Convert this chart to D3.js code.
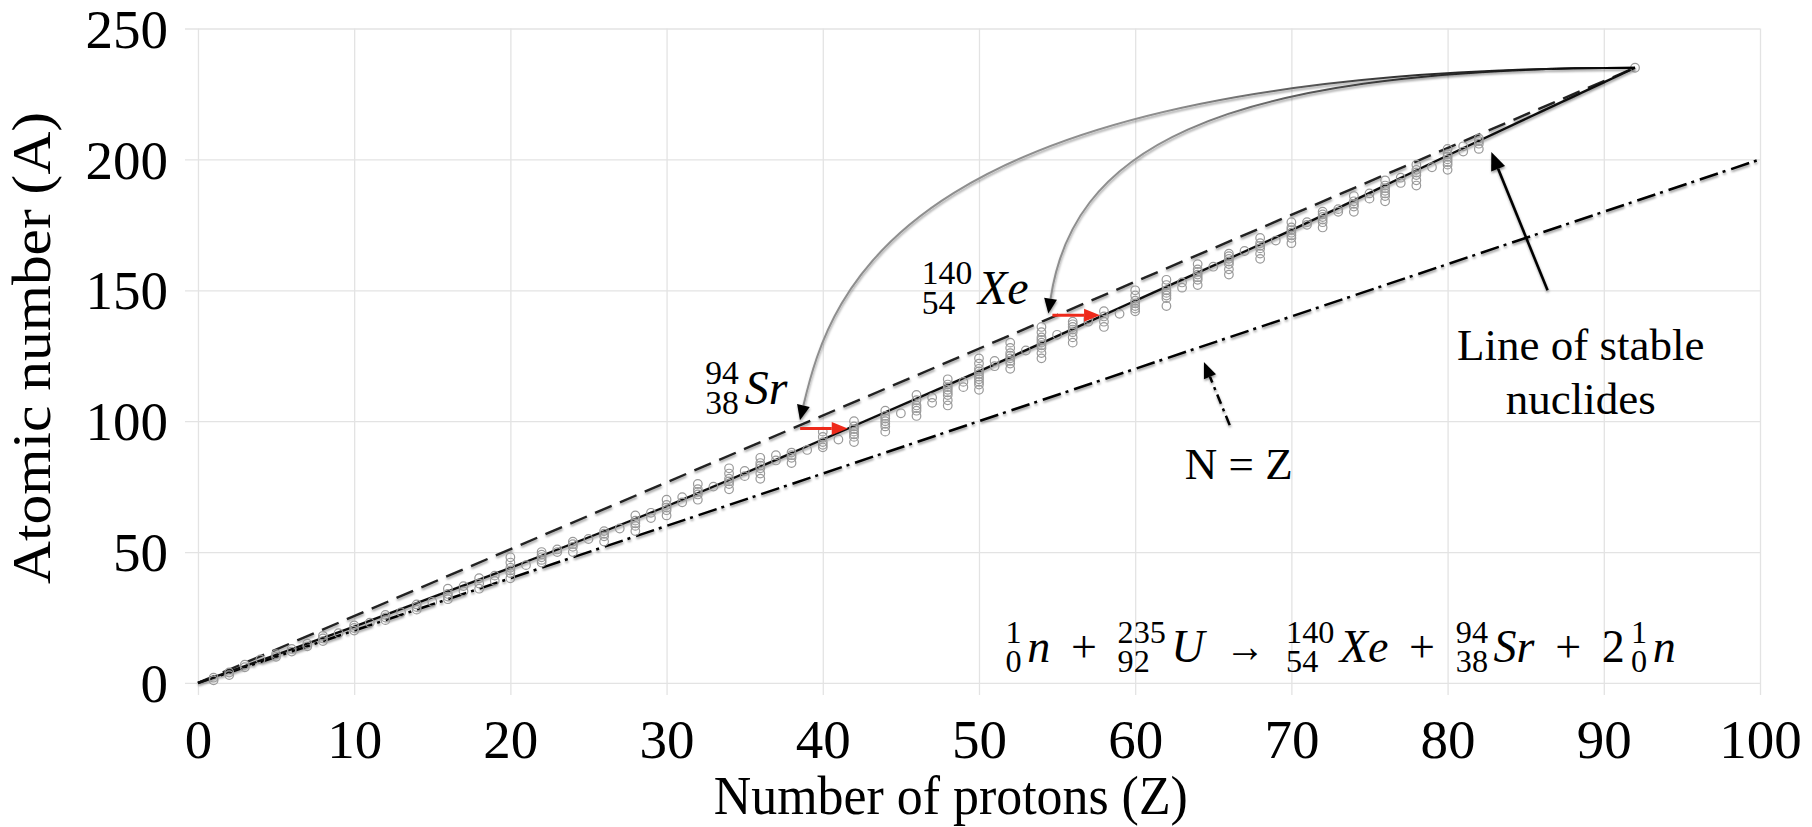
<!DOCTYPE html>
<html>
<head>
<meta charset="utf-8">
<script src="https://cdn.jsdelivr.net/npm/d3@7"></script>
<style>
  html, body { margin: 0; padding: 0; background: #fff; }
  svg { display: block; }
  svg text { font-family: "Liberation Serif", "Times New Roman", Times, serif; }
</style>
</head>
<body>
<svg id="chart" width="1812" height="827"></svg>
<script>
// ---------------- data ----------------
const xTicks = [0, 10, 20, 30, 40, 50, 60, 70, 80, 90, 100];
const yTicks = [0, 50, 100, 150, 200, 250];

// stable nuclides: [Z, [mass numbers]]
const stableIsotopes = [
  [1, [1, 2]], [2, [3, 4]], [3, [6, 7]], [4, [9]], [5, [10, 11]], [6, [12, 13]],
  [7, [14, 15]], [8, [16, 17, 18]], [9, [19]], [10, [20, 21, 22]], [11, [23]],
  [12, [24, 25, 26]], [13, [27]], [14, [28, 29, 30]], [15, [31]], [16, [32, 33, 34, 36]],
  [17, [35, 37]], [18, [36, 38, 40]], [19, [39, 41]], [20, [40, 42, 43, 44, 46, 48]],
  [21, [45]], [22, [46, 47, 48, 49, 50]], [23, [50, 51]], [24, [50, 52, 53, 54]],
  [25, [55]], [26, [54, 56, 57, 58]], [27, [59]], [28, [58, 60, 61, 62, 64]],
  [29, [63, 65]], [30, [64, 66, 67, 68, 70]], [31, [69, 71]], [32, [70, 72, 73, 74, 76]],
  [33, [75]], [34, [74, 76, 77, 78, 80, 82]], [35, [79, 81]], [36, [78, 80, 82, 83, 84, 86]],
  [37, [85, 87]], [38, [84, 86, 87, 88]], [39, [89]], [40, [90, 91, 92, 94, 96]],
  [41, [93]], [42, [92, 94, 95, 96, 97, 98, 100]], [44, [96, 98, 99, 100, 101, 102, 104]],
  [45, [103]], [46, [102, 104, 105, 106, 108, 110]], [47, [107, 109]],
  [48, [106, 108, 110, 111, 112, 113, 114, 116]], [49, [113, 115]],
  [50, [112, 114, 115, 116, 117, 118, 119, 120, 122, 124]], [51, [121, 123]],
  [52, [120, 122, 123, 124, 125, 126, 128, 130]], [53, [127]],
  [54, [124, 126, 128, 129, 130, 131, 132, 134, 136]], [55, [133]],
  [56, [130, 132, 134, 135, 136, 137, 138]], [57, [138, 139]], [58, [136, 138, 140, 142]],
  [59, [141]], [60, [142, 143, 144, 145, 146, 148, 150]], [62, [144, 147, 148, 149, 150, 152, 154]],
  [63, [151, 153]], [64, [152, 154, 155, 156, 157, 158, 160]], [65, [159]],
  [66, [156, 158, 160, 161, 162, 163, 164]], [67, [165]], [68, [162, 164, 166, 167, 168, 170]],
  [69, [169]], [70, [168, 170, 171, 172, 173, 174, 176]], [71, [175, 176]],
  [72, [174, 176, 177, 178, 179, 180]], [73, [180, 181]], [74, [180, 182, 183, 184, 186]],
  [75, [185, 187]], [76, [184, 186, 187, 188, 189, 190, 192]], [77, [191, 193]],
  [78, [190, 192, 194, 195, 196, 198]], [79, [197]], [80, [196, 198, 199, 200, 201, 202, 204]],
  [81, [203, 205]], [82, [204, 206, 207, 208]]
];

// uranium-235 target nucleus
const uranium = [92, 235];

// line of stable nuclides
const stabilityZ = [0, 10, 20, 30, 40, 50, 60, 70, 80, 90, 92];
const stabilityA = [0, 21.5, 44, 67.5, 93, 119, 146, 173, 201.5, 229.4, 235];

// same neutron/proton ratio as U-235
const uraniumRatioLine = [[0, 0], [92, 235]];
// N = Z  (A = 2Z)
const equalNZLine = [[0, 0], [100, 200]];

// fission paths from U-235 to the two fragments (cubic Bezier: start, two handles, tip)
const pathToSr = [[92, 235], [44.95, 235], [40.3, 145], [38.54, 100.4]];
const pathToXe = [[92, 235], [64.15, 235], [55.82, 195.8], [54.44, 141.1]];

// beta-decay shifts toward the stability line
const betaSr = [[38.55, 97.2], [41.6, 97.2]];
const betaXe = [[54.7, 140.5], [57.75, 140.5]];

// pointers for the two line labels
const stablePointer = [[86.4, 150], [82.8, 202.8]];
const nzPointer = [[66.05, 98.5], [64.4, 122.6]];

// ---------------- setup ----------------
const FONT = '"Liberation Serif", "Times New Roman", Times, serif';
const svg = d3.select('#chart');

const xScale = d3.scaleLinear().domain([-0.83, 100]).range([185, 1760]);
const yScale = d3.scaleLinear().domain([-4.6, 250]).range([695, 28.5]);

const defs = svg.append('defs');
const shadow = defs.append('filter').attr('id', 'soft-shadow')
  .attr('filterUnits', 'userSpaceOnUse')
  .attr('x', 0).attr('y', 0).attr('width', 1812).attr('height', 827);
shadow.append('feDropShadow').attr('dx', 0.5).attr('dy', 2)
  .attr('stdDeviation', 1.3).attr('flood-color', '#000').attr('flood-opacity', 0.38);

const fade = defs.append('linearGradient').attr('id', 'path-fade')
  .attr('gradientUnits', 'userSpaceOnUse')
  .attr('x1', xScale(92)).attr('y1', 0).attr('x2', xScale(62)).attr('y2', 0);
fade.append('stop').attr('offset', 0).attr('stop-color', '#000');
fade.append('stop').attr('offset', 0.5).attr('stop-color', '#333');
fade.append('stop').attr('offset', 1).attr('stop-color', '#8e8e8e');

// ---------------- axes & grid ----------------
const gridColor = '#e3e3e3';
const xAxis = d3.axisBottom(xScale).tickValues(xTicks)
  .tickSize(-(yScale.range()[0] - yScale.range()[1])).tickPadding(24)
  .tickFormat(d3.format('d'));
const gx = svg.append('g').attr('transform', `translate(0,${yScale.range()[0]})`).call(xAxis)
  .attr('font-family', FONT).attr('font-size', 55);
gx.select('.domain').remove();
gx.selectAll('.tick line').attr('stroke', gridColor).attr('stroke-width', 1.3);
gx.selectAll('.tick text').attr('fill', '#000');

const yAxis = d3.axisLeft(yScale).tickValues(yTicks)
  .tickSize(-(xScale.range()[1] - xScale.range()[0])).tickPadding(17)
  .tickFormat(d3.format('d'));
const gy = svg.append('g').attr('transform', `translate(${xScale.range()[0]},0)`).call(yAxis)
  .attr('font-family', FONT).attr('font-size', 55);
gy.select('.domain').remove();
gy.selectAll('.tick line').attr('stroke', gridColor).attr('stroke-width', 1.3);
gy.selectAll('.tick text').attr('fill', '#000').attr('dy', '0.34em');

// axis titles
svg.append('text')
  .attr('x', xScale(48.2)).attr('y', 814)
  .attr('text-anchor', 'middle').attr('font-size', 55)
  .attr('textLength', 474).attr('lengthAdjust', 'spacingAndGlyphs')
  .text('Number of protons (Z)');
svg.append('text')
  .attr('transform', `translate(50,${yScale(128)}) rotate(-90)`)
  .attr('text-anchor', 'middle').attr('font-size', 55)
  .attr('textLength', 472).attr('lengthAdjust', 'spacingAndGlyphs')
  .text('Atomic number (A)');

// ---------------- lines ----------------
const lineGen = d3.line().x(d => xScale(d[0])).y(d => yScale(d[1]));
const lines = svg.append('g').attr('filter', 'url(#soft-shadow)');

lines.append('path').attr('d', lineGen(equalNZLine))
  .attr('fill', 'none').attr('stroke', '#000').attr('stroke-width', 2.5)
  .attr('stroke-dasharray', '19,5,3,6');

lines.append('path').attr('d', lineGen(uraniumRatioLine))
  .attr('fill', 'none').attr('stroke', '#222').attr('stroke-width', 2.4)
  .attr('stroke-dasharray', '18,9');

// stable nuclides
const nuclidePoints = stableIsotopes.flatMap(([z, masses]) => masses.map(a => [z, a]));
nuclidePoints.push(uranium);
svg.append('g').selectAll('circle').data(nuclidePoints).join('circle')
  .attr('cx', d => xScale(d[0])).attr('cy', d => yScale(d[1])).attr('r', 4.3)
  .attr('fill', 'none').attr('stroke', '#9a9a9a').attr('stroke-width', 1.2);

const stabilityPts = stabilityZ.map((z, i) => [z, stabilityA[i]]);
lines.append('path')
  .attr('d', d3.line().x(d => xScale(d[0])).y(d => yScale(d[1])).curve(d3.curveMonotoneX)(stabilityPts))
  .attr('fill', 'none').attr('stroke', '#111').attr('stroke-width', 2.4);

// ---------------- arrows ----------------
function headPath(tip, ux, uy, len, width) {
  const base = [tip[0] - ux * len, tip[1] - uy * len];
  const hw = width / 2;
  return `M${tip[0]},${tip[1]}L${base[0] - uy * hw},${base[1] + ux * hw}L${base[0] + uy * hw},${base[1] - ux * hw}Z`;
}

// straight arrow through the given points, head at the last one
function drawArrow(g, pts, o) {
  const px = pts.map(p => [xScale(p[0]), yScale(p[1])]);
  const tip = px[px.length - 1], prev = px[px.length - 2];
  let ux = tip[0] - prev[0], uy = tip[1] - prev[1];
  const n = Math.hypot(ux, uy); ux /= n; uy /= n;
  const base = [tip[0] - ux * o.headLen, tip[1] - uy * o.headLen];
  const shaft = px.slice(0, -1).concat([base]);
  g.append('path').attr('d', d3.line()(shaft))
    .attr('fill', 'none').attr('stroke', o.stroke).attr('stroke-width', o.width)
    .attr('stroke-dasharray', o.dash || null);
  g.append('path').attr('d', headPath(tip, ux, uy, o.headLen, o.headWidth)).attr('fill', o.headFill);
}

// curved arrow along a cubic Bezier [start, handle1, handle2, tip]
function drawCurvedArrow(g, ctrl, o) {
  const [p0, p1, p2, p3] = ctrl.map(p => [xScale(p[0]), yScale(p[1])]);
  let ux = p3[0] - p2[0], uy = p3[1] - p2[1];
  const n = Math.hypot(ux, uy); ux /= n; uy /= n;
  const dx = -ux * o.headLen, dy = -uy * o.headLen;
  const path = d3.path();
  path.moveTo(p0[0], p0[1]);
  path.bezierCurveTo(p1[0], p1[1], p2[0] + dx, p2[1] + dy, p3[0] + dx, p3[1] + dy);
  g.append('path').attr('d', path.toString())
    .attr('fill', 'none').attr('stroke', o.stroke).attr('stroke-width', o.width);
  g.append('path').attr('d', headPath(p3, ux, uy, o.headLen, o.headWidth)).attr('fill', o.headFill);
}

const arrows = svg.append('g').attr('filter', 'url(#soft-shadow)');
const arcStyle = { stroke: 'url(#path-fade)', width: 2, headLen: 15, headWidth: 13, headFill: '#000' };
drawCurvedArrow(arrows, pathToSr, arcStyle);
drawCurvedArrow(arrows, pathToXe, arcStyle);

const betaStyle = { stroke: '#ee2a1b', width: 3, headLen: 16, headWidth: 13, headFill: '#ee2a1b' };
drawArrow(svg, betaSr, betaStyle);
drawArrow(svg, betaXe, betaStyle);

drawArrow(arrows, stablePointer, { stroke: '#000', width: 2.6, headLen: 18, headWidth: 15, headFill: '#000' });
drawArrow(arrows, nzPointer, { stroke: '#000', width: 2.5, dash: '10,5,3,5', headLen: 16, headWidth: 13, headFill: '#000' });

// ---------------- labels ----------------
const labels = svg.append('g').attr('fill', '#000');

labels.append('text').attr('x', xScale(88.53)).attr('y', yScale(123.3))
  .attr('text-anchor', 'middle').attr('font-size', 45).text('Line of stable');
labels.append('text').attr('x', xScale(88.53)).attr('y', yScale(102.6))
  .attr('text-anchor', 'middle').attr('font-size', 45).text('nuclides');
labels.append('text').attr('x', xScale(66.63)).attr('y', yScale(78.1))
  .attr('text-anchor', 'middle').attr('font-size', 45).text('N = Z');

// nuclide symbol with mass number above and atomic number below, both on the left
function nuclide(g, x, baseline, mass, atomic, symbol, F) {
  const s = 0.7 * F;
  const sup = g.append('text').attr('x', x).attr('y', baseline - 0.41 * F).attr('font-size', s).text(mass);
  const sub = g.append('text').attr('x', x).attr('y', baseline + 0.22 * F).attr('font-size', s).text(atomic);
  const w = Math.max(sup.node().getComputedTextLength(), sub.node().getComputedTextLength());
  const sym = g.append('text').attr('x', x + w + 0.12 * F).attr('y', baseline)
    .attr('font-size', F).attr('font-style', 'italic').text(symbol);
  return w + 0.12 * F + sym.node().getComputedTextLength();
}

nuclide(labels, xScale(46.34), yScale(144.9), '140', '54', 'Xe', 48);
nuclide(labels, xScale(32.48), yScale(106.75), '94', '38', 'Sr', 48);

// fission reaction equation
const eqF = 46;
const eqParts = [
  { kind: 'nuc', mass: '1', atomic: '0', sym: 'n', gap: 0 },
  { kind: 'op', text: '+', gap: 1 },
  { kind: 'nuc', mass: '235', atomic: '92', sym: 'U', gap: 1 },
  { kind: 'op', text: '\u2192', gap: 1, width: 40 },
  { kind: 'nuc', mass: '140', atomic: '54', sym: 'Xe', gap: 1 },
  { kind: 'op', text: '+', gap: 1 },
  { kind: 'nuc', mass: '94', atomic: '38', sym: 'Sr', gap: 1 },
  { kind: 'op', text: '+', gap: 1 },
  { kind: 'op', text: '2', gap: 1 },
  { kind: 'nuc', mass: '1', atomic: '0', sym: 'n', gap: 0.3 }
];
const eq = labels.append('g');
const placed = eqParts.map(p => {
  const pg = eq.append('g');
  let w;
  if (p.kind === 'nuc') {
    w = nuclide(pg, 0, 0, p.mass, p.atomic, p.sym, eqF);
  } else {
    const t = pg.append('text').attr('x', 0).attr('y', 0).attr('font-size', eqF).text(p.text);
    if (p.width) t.attr('textLength', p.width).attr('lengthAdjust', 'spacingAndGlyphs');
    w = p.width || t.node().getComputedTextLength();
  }
  return { pg, w, gap: p.gap };
});
const eqLeft = xScale(51.7), eqRight = xScale(94.6), eqBase = yScale(8.1);
const glyphW = d3.sum(placed, p => p.w);
const gapUnit = (eqRight - eqLeft - glyphW) / d3.sum(placed, p => p.gap);
let cursor = eqLeft;
placed.forEach(p => {
  cursor += p.gap * gapUnit;
  p.pg.attr('transform', `translate(${cursor},${eqBase})`);
  cursor += p.w;
});
</script>
</body>
</html>
